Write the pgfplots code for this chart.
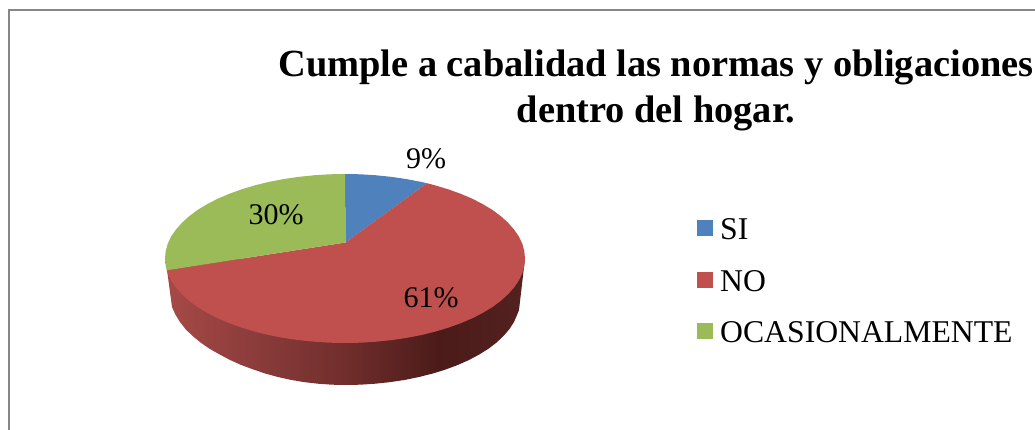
\documentclass[border=0pt]{standalone}
\usepackage{fontspec}
\setmainfont{Liberation Serif}
\usepackage{pgfplots}
\pgfplotsset{compat=1.18}
\definecolor{cblue}{HTML}{4F81BD}
\definecolor{cred}{HTML}{C0504D}
\definecolor{cgreen}{HTML}{9BBB59}
\definecolor{cframe}{HTML}{868686}
\definecolor{sa}{HTML}{A64A47}
\definecolor{sb}{HTML}{8B3C3B}
\definecolor{sc}{HTML}{702E2C}
\definecolor{sd}{HTML}{4B1B19}
\definecolor{sf}{HTML}{522120}
\pgfdeclarehorizontalshading{sideshade}{100bp}{
 color(0bp)=(sa);
 color(25bp)=(sa);
 color(37.5bp)=(sb);
 color(50bp)=(sc);
 color(63bp)=(sd);
 color(75bp)=(sf);
 color(100bp)=(sf)}
\begin{document}
\begin{tikzpicture}
\useasboundingbox (0,0) rectangle (1035pt,430pt);
\begin{axis}[
 at={(0,0)},anchor=south west,
 width=1035pt,height=430pt,scale only axis,
 xmin=0,xmax=1035,ymin=0,ymax=430,y dir=reverse,
 axis lines=none,clip=false,
 legend cell align=left,
 legend style={draw=none,fill=none,inner sep=0pt,
   at={(axis cs:697,217.5)},anchor=north west,
   font=\fontsize{31.7}{36}\selectfont,row sep=21.5pt,
   nodes={inner sep=0pt,text height=22pt,text depth=8pt}},
 legend image code/.code={\fill[#1] (0pt,-3.5pt) rectangle (16pt,12.5pt);\path (23pt,0pt);},
]
\addplot[forget plot,color=cframe,line width=2pt] coordinates {(8.5,430)(8.5,10.5)(1035,10.5)};
\addplot[forget plot,draw=none,shading=sideshade] coordinates {
 (525,258.5)(519,310)(517,315)(514,322)(509.4,329.1)(503.6,335.9)(496.6,342.5)(488.4,348.8)(479.1,354.6)(468.7,360.1)(457.5,365.1)(445.4,369.6)(432.5,373.6)(419,377)(404.9,379.9)(390.3,382.1)(375.4,383.7)(360.3,384.7)(345,385)
 (332,384.7)(318,383.7)(304,382.1)(291,379.9)(278,377)(265.5,373.6)(253.6,369.6)(241.5,365.1)(230.3,360.1)(219.9,354.6)(209.6,348.8)(200.5,342.5)(192.5,335.9)(185.5,329.1)(180,322)(175.5,314.8)(172,307)(167,270)(165,258.5)} --cycle;
\addplot[draw=none,fill=cblue] coordinates {(345.5,242.5)(345,174)(360.7,174.3)(376.3,175.3)(391.6,176.9)(406.6,179.1)(421.1,181.9)(427,183.2)} --cycle;
\addlegendentry{SI}
\addplot[draw=none,fill=cred] coordinates {(345.5,242.5)(427,183.2)(435,185.3)(448.2,189.3)(460.7,193.8)(472.3,198.7)(482.9,204.2)(492.5,210)(500.9,216.25)(508.1,222.8)(514.1,229.6)(518.9,236.6)(522.3,243.8)(524.3,251.1)(525,258.5)
 (524.3,265.9)(522.3,273.2)(518.9,280.4)(514.1,287.4)(508.1,294.2)(500.9,300.75)(492.5,307)(482.9,312.8)(472.3,318.3)(460.7,323.2)(448.2,327.7)(435,331.7)(421.1,335.1)(406.6,337.9)(391.6,340.1)(376.3,341.7)(360.7,342.7)(345,343)
 (329.3,342.7)(313.7,341.7)(298.4,340.1)(283.4,337.9)(268.9,335.1)(255,331.7)(241.8,327.7)(229.3,323.2)(217.7,318.3)(207.1,312.8)(197.5,307)(189.1,300.75)(181.9,294.2)(175.9,287.4)(171.1,280.4)(167.7,273.2)(166.8,270.3)} --cycle;
\addlegendentry{NO}
\addplot[draw=none,fill=cgreen] coordinates {(345.5,242.5)(345,174)(329.3,174.3)(313.7,175.3)(298.4,176.9)(283.4,179.1)(268.9,181.9)(255,185.3)(241.8,189.3)(229.3,193.8)(217.7,198.7)(207.1,204.2)(197.5,210)(189.1,216.25)(181.9,222.8)(175.9,229.6)(171.1,236.6)(167.7,243.8)(165.7,251.1)(165,258.5)(165.7,265.9)(166.8,270.3)} --cycle;
\addlegendentry{OCASIONALMENTE}
\node[align=center,font=\fontsize{38.4}{46}\selectfont\bfseries] at (axis cs:656,90.5) {Cumple a cabalidad las normas y obligaciones\\dentro del hogar.};
\node[font=\fontsize{30}{36}\selectfont] at (axis cs:426,158.5) {9\%};
\node[font=\fontsize{30}{36}\selectfont] at (axis cs:276,215) {30\%};
\node[font=\fontsize{30}{36}\selectfont] at (axis cs:431,298) {61\%};
\end{axis}
\end{tikzpicture}
\end{document}
